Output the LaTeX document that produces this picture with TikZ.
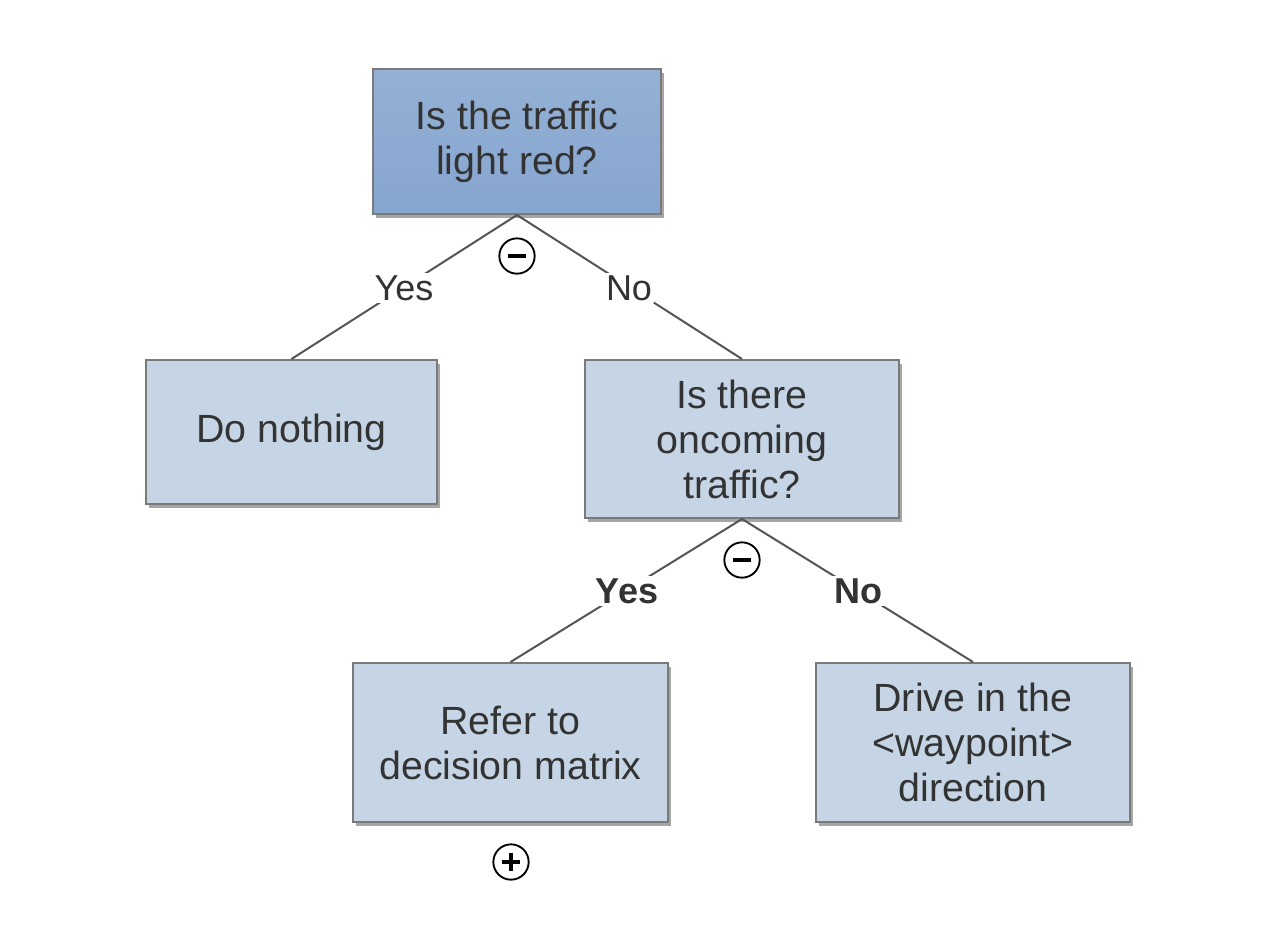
\documentclass[tikz,border=0pt]{standalone}
\usepackage{fontspec}
\setmainfont{Liberation Sans}
\usetikzlibrary{shadows}
\definecolor{txt}{HTML}{333333}
\definecolor{boxfill}{HTML}{C5D5E5}
\definecolor{topA}{HTML}{94B1D5}
\definecolor{topB}{HTML}{86A5CF}
\definecolor{bord}{HTML}{7A7A7A}
\definecolor{conn}{HTML}{555555}
\tikzset{
  box/.style={draw=bord, line width=1.5pt, fill=boxfill, align=center, text=txt,
    font=\fontsize{29.5}{33.75}\selectfont,
    drop shadow={shadow xshift=2.5pt, shadow yshift=-3pt, opacity=0.35, fill=black}},
  topbox/.style={box, top color=topA, bottom color=topB},
  conline/.style={draw=conn, line width=1.5pt},
  lab/.style={fill=white, text=txt, inner sep=1.5pt, font=\fontsize{27}{30}\selectfont},
  blab/.style={lab, font=\fontsize{27}{30}\selectfont\bfseries},
  sign/.style={circle, draw=black, line width=1.4pt, minimum size=26.5pt, inner sep=0pt, fill=white},
  minussign/.style={sign, path picture={\draw[line width=2.4pt] ([xshift=-6.5pt]path picture bounding box.center) -- ([xshift=6.5pt]path picture bounding box.center);}},
  plussign/.style={sign, path picture={\draw[line width=2.4pt] ([xshift=-6.5pt]path picture bounding box.center) -- ([xshift=6.5pt]path picture bounding box.center);
     \draw[line width=2.4pt] ([yshift=-6.5pt]path picture bounding box.center) -- ([yshift=6.5pt]path picture bounding box.center);}}
}
\begin{document}
\begin{tikzpicture}[x=0.75pt,y=-0.75pt]
\useasboundingbox (0,0) rectangle (1284,926);
\node[topbox, minimum width=216pt, minimum height=108.75pt] (q1) at (517,141.5) {Is the traffic\\light red?};
\node[box, minimum width=218.25pt, minimum height=108pt] (dn) at (291.5,432) {Do nothing};
\node[box, minimum width=235.5pt, minimum height=118.5pt] (q2) at (742,439) {Is there\\oncoming\\traffic?};
\node[box, minimum width=236.25pt, minimum height=119.25pt] (rf) at (510.5,742.5) {Refer to\\decision matrix};
\node[box, minimum width=235.5pt, minimum height=119.25pt] (dr) at (973,742.5) {Drive in the\\<waypoint>\\direction};
\draw[conline] (q1.south) -- (dn.north);
\draw[conline] (q1.south) -- (q2.north);
\draw[conline] (q2.south) -- (rf.north);
\draw[conline] (q2.south) -- (dr.north);
\node[lab] (y1) at (404,288) {Yes};
\node[lab] (n1) at (629,288) {No};
\node[blab] (y2) at (627,591) {Yes};
\node[blab] (n2) at (858,591) {No};
\node[minussign] (s1) at (517,256) {};
\node[minussign] (s2) at (742,560) {};
\node[plussign] (s3) at (511,862) {};
\end{tikzpicture}
\end{document}
